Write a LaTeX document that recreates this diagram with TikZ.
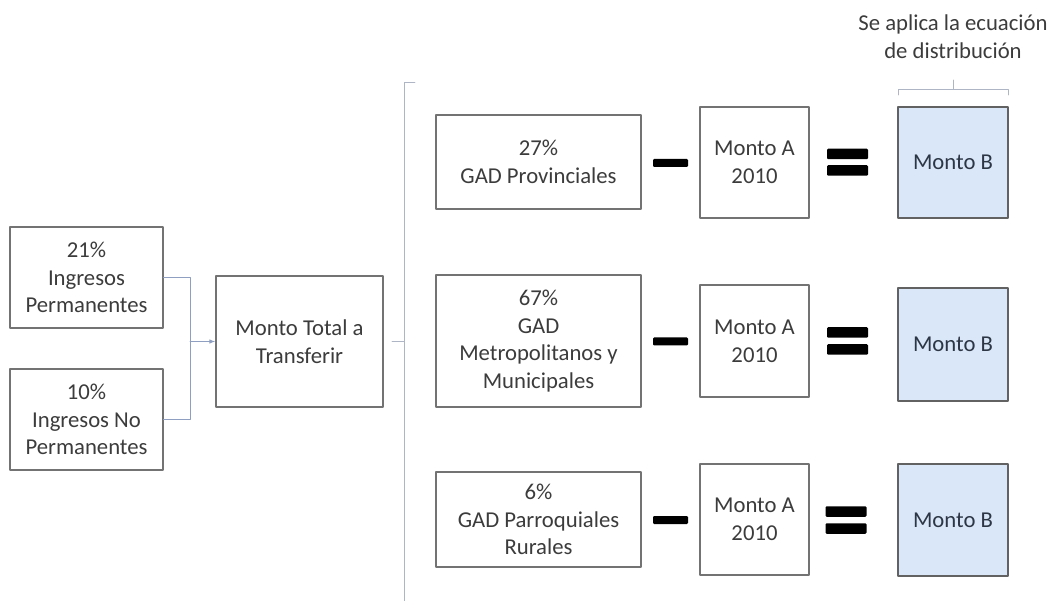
\documentclass[tikz,border=0pt]{standalone}
\usepackage{fontspec}
\setmainfont{Carlito}
\usetikzlibrary{arrows.meta}
\definecolor{boxline}{HTML}{737373}
\definecolor{txt}{HTML}{3C3C3C}
\definecolor{link}{HTML}{8E9FC2}
\definecolor{brk}{HTML}{AEB6C6}
\definecolor{bfill}{HTML}{D9E7F9}
\definecolor{btxt}{HTML}{2C3644}
\begin{document}
\begin{tikzpicture}[line cap=round,line join=round,x=1pt,y=-1pt,
  caja/.style={draw=boxline,line width=1.3pt,fill=white,text=txt,align=center,inner sep=0pt,font=\fontsize{22.7}{27.8}\selectfont},
  cajab/.style={caja,fill=bfill,draw=boxline!85!black,text=btxt},
  signo/.style={fill=black,rounded corners=1.2pt,inner sep=0pt,minimum width=35pt,minimum height=8pt},
  igual/.style={signo,minimum width=41pt,minimum height=10.5pt},
  enlace/.style={draw=link,line width=0.9pt},
  llave/.style={draw=brk,line width=0.9pt}]
\useasboundingbox (0,0) rectangle (1052,601);
\node[caja,minimum width=153pt,minimum height=101pt] (perm) at (86.5,277.5) {21\%\\Ingresos\\Permanentes};
\node[caja,minimum width=153pt,minimum height=101pt] (noperm) at (86.5,419.5) {10\%\\Ingresos No\\Permanentes};
\node[caja,minimum width=167pt,minimum height=131pt] (total) at (299.5,341.5) {Monto Total a\\Transferir};
\coordinate (junta) at (190,341.5);
\draw[enlace] (perm.east) -| (junta);
\draw[enlace] (noperm.east) -| (junta);
\draw[enlace,-{Latex[length=6pt,width=4.5pt]}] (junta) -- (total.west);
\coordinate (llavemedio) at (392,341.5);
\coordinate (llavecentro) at (404,341.5);
\coordinate (llavetope) at (404,82);
\coordinate (llavepunta) at (415,82);
\coordinate (llavefin) at (404,601);
\draw[llave] (llavepunta) -- (llavetope) -- (llavefin);
\draw[llave] (llavemedio) -- (llavecentro);
\node[caja,minimum width=205pt,minimum height=94pt] (prov) at (538.5,162) {27\%\\GAD Provinciales};
\node[caja,minimum width=205pt,minimum height=132pt] (muni) at (538.5,341) {67\%\\GAD\\Metropolitanos y\\Municipales};
\node[caja,minimum width=205pt,minimum height=95pt] (parr) at (538.5,519.5) {6\%\\GAD Parroquiales\\Rurales};
\node[signo] (menosprov) at (670.5,163) {};
\node[signo] (menosmuni) at (670.5,341.5) {};
\node[signo] (menosparr) at (670.5,520) {};
\node[caja,minimum width=109pt,minimum height=111pt] (montoaprov) at (754.5,162.5) {Monto A\\2010};
\node[caja,minimum width=109pt,minimum height=112pt] (montoamuni) at (754.5,341) {Monto A\\2010};
\node[caja,minimum width=109pt,minimum height=111pt] (montoaparr) at (754.5,519.5) {Monto A\\2010};
\node[igual] (igualprova) at (847.5,154) {};
\node[igual] (igualprovb) at (847.5,170.5) {};
\node[igual] (igualmunia) at (847.5,332.5) {};
\node[igual] (igualmunib) at (847.5,349.5) {};
\node[igual] (igualparra) at (846,511.5) {};
\node[igual] (igualparrb) at (846,528.5) {};
\node[cajab,minimum width=110pt,minimum height=111pt] (montobprov) at (953,162.5) {Monto B};
\node[cajab,minimum width=110pt,minimum height=113pt] (montobmuni) at (953,344.5) {Monto B};
\node[cajab,minimum width=110pt,minimum height=112pt] (montobparr) at (953,520) {Monto B};
\node[text=txt,align=center,font=\fontsize{22.7}{27.8}\selectfont] (ecuacion) at (953,36.5) {Se aplica la ecuación\\de distribución};
\coordinate (corchetea) at (898,95);
\coordinate (corcheteb) at (898,89);
\coordinate (corchetec) at (1008,89);
\coordinate (corcheted) at (1008,95);
\coordinate (corchetemedio) at (953,89);
\coordinate (corchetetope) at (953,80);
\draw[llave] (corchetea) -- (corcheteb) -- (corchetec) -- (corcheted);
\draw[llave] (corchetemedio) -- (corchetetope);
\end{tikzpicture}
\end{document}
